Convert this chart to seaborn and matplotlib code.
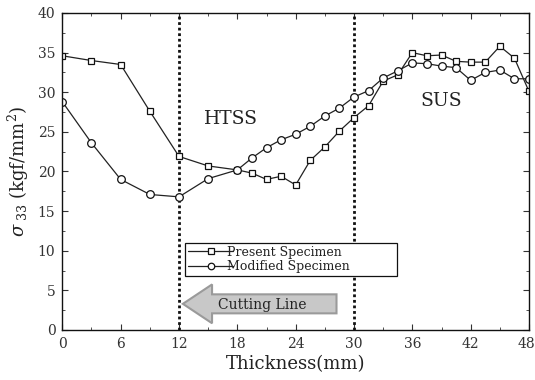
import matplotlib
matplotlib.use("Agg")
import matplotlib.pyplot as plt
import matplotlib.transforms as mtransforms
import seaborn as sns
from matplotlib.patches import FancyArrow

# ---- data ----
present_x = [0, 3, 6, 9, 12, 15, 18, 19.5, 21, 22.5, 24, 25.5, 27, 28.5, 30, 31.5, 33,
             34.5, 36, 37.5, 39, 40.5, 42, 43.5, 45, 46.5, 48]
present_y = [34.6, 34.0, 33.5, 27.6, 21.9, 20.7, 20.2, 19.8, 19.0, 19.4, 18.3, 21.4, 23.1,
             25.1, 26.8, 28.3, 31.4, 32.2, 35.0, 34.6, 34.7, 33.9, 33.8, 33.8, 35.8, 34.3, 30.1]
modified_x = [0, 3, 6, 9, 12, 15, 18, 19.5, 21, 22.5, 24, 25.5, 27, 28.5, 30, 31.5, 33,
              34.5, 36, 37.5, 39, 40.5, 42, 43.5, 45, 46.5, 48]
modified_y = [28.8, 23.6, 19.0, 17.1, 16.8, 19.1, 20.2, 21.7, 23.0, 24.0, 24.7, 25.7, 27.0,
              28.0, 29.4, 30.2, 31.8, 32.7, 33.7, 33.6, 33.3, 33.1, 31.5, 32.5, 32.8, 31.7, 31.7]
series_names = ["Present Specimen", "Modified Specimen"]
x_ticks = [0, 6, 12, 18, 24, 30, 36, 42, 48]
y_ticks = [0, 5, 10, 15, 20, 25, 30, 35, 40]
region_lines = [12, 30]
region_labels = ["HTSS", "SUS"]

sns.set_style("ticks")
plt.rcParams["font.family"] = ["DejaVu Serif"]
plt.rcParams["mathtext.fontset"] = "dejavuserif"

fig = plt.figure(figsize=(5.35, 3.8), dpi=100)
ax = fig.add_axes([0.1165, 0.1316, 0.8723, 0.8342])

sns.lineplot(x=present_x, y=present_y, ax=ax, color="#222222", lw=0.9,
             marker="s", markersize=5, markerfacecolor="white", markeredgecolor="#111111",
             markeredgewidth=0.9, label=series_names[0])
sns.lineplot(x=modified_x, y=modified_y, ax=ax, color="#222222", lw=0.9,
             marker="o", markersize=5.5, markerfacecolor="white", markeredgecolor="#111111",
             markeredgewidth=0.9, label=series_names[1])

for xv in region_lines:
    ax.axvline(xv, color="#111111", lw=2.0, ls=(0, (1, 1)), zorder=1)

ax.text(14.6, 26.6, region_labels[0], fontsize=13.5, ha="left", va="center", color="#222222")
ax.text(36.8, 28.9, region_labels[1], fontsize=13.5, ha="left", va="center", color="#222222")

# cutting line arrow
arr = FancyArrow(28.2, 3.3, -15.8, 0, width=2.4, head_width=4.9, head_length=3.0,
                 length_includes_head=True, fc="#c8c8c8", ec="#9a9a9a", lw=1.5, zorder=3)
ax.add_patch(arr)
ax.text(16.0, 3.2, "Cutting Line", fontsize=10, ha="left", va="center", color="#222222", zorder=4)

ax.set_xlim(0, 48)
ax.set_ylim(0, 40)
ax.set_xticks(x_ticks)
ax.set_yticks(y_ticks)
ax.set_xticks([3 + 6 * i for i in range(8)], minor=True)
ax.set_yticks([2.5 + 5 * i for i in range(8)], minor=True)
ax.tick_params(which="both", direction="in", top=True, right=True, color="#333333")
ax.tick_params(which="major", length=4, width=0.8, labelsize=10, labelcolor="#333333", pad=5)
ax.tick_params(which="minor", length=2, width=0.6)
for s in ax.spines.values():
    s.set_color("#111111")
    s.set_linewidth(1.0)

last = ax.get_xticklabels()[-1]
last.set_transform(last.get_transform() + mtransforms.ScaledTranslation(-3 / 100, 0, fig.dpi_scale_trans))

ax.set_xlabel("Thickness(mm)", fontsize=13, color="#222222", labelpad=3)
ax.set_ylabel(r"$\sigma_{\ 33}$ (kgf/mm$^2$)", fontsize=13, color="#222222", labelpad=5)

leg = ax.legend(loc="upper left", bbox_to_anchor=(0.263, 0.276, 0.454, 0), mode="expand",
                fontsize=9, frameon=True, fancybox=False, edgecolor="#111111",
                handlelength=3.6, handletextpad=-0.5, markerscale=0.85,
                borderpad=0.25, labelspacing=0.1, borderaxespad=0)
leg.get_frame().set_linewidth(0.9)
leg.get_frame().set_alpha(1)
for t in leg.get_texts():
    t.set_color("#222222")

fig.savefig("out.png", dpi=100)
